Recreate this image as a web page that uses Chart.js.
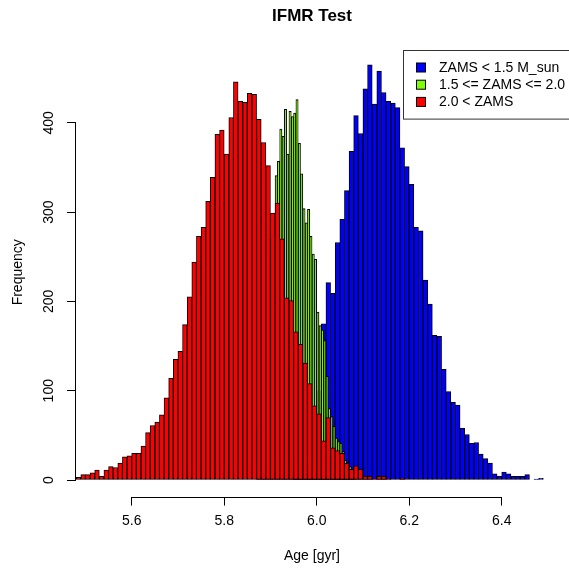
<!DOCTYPE html>
<html>
<head>
<meta charset="utf-8">
<script src="https://cdn.jsdelivr.net/npm/chart.js@4.4.1/dist/chart.umd.min.js"></script>
<style>
  html, body { margin: 0; padding: 0; background: #fff; }
  canvas { display: block; }
</style>
</head>
<body>
<canvas id="chartIFMR" width="569" height="569"></canvas>
<script>
// histogram counts, one entry per bin; bins start at *Start and are *Width wide
const redStart = 5.48;
const redWidth = 0.01;
const redCounts = [
    3, 6, 6, 8, 11, 4, 11, 15, 14, 19, 26, 27, 30, 30, 38, 53, 61, 65, 73, 92,
    114, 135, 144, 174, 205, 244, 273, 283, 312,
    339, 387, 392, 365, 406, 446, 424, 423, 433, 432, 404, 378, 352,
    299, 310, 270, 204, 201, 166, 152, 131, 108, 83, 74, 44, 70, 36, 33, 30, 19, 12, 16,
    12, 4, 4, 1, 4, 4, 1, 0, 0, 2
];

const greenStart = 5.87;
const greenWidth = 0.005;
const greenCounts = [
    60, 95, 140, 180, 215, 245, 270, 290,
    341, 357, 393, 385, 415, 365, 413, 407, 411, 426, 377, 343, 304, 288, 303, 273, 253, 247,
    188, 173, 168, 156, 116, 80, 71, 60, 47, 43, 41, 32, 22, 18, 15, 5, 2
];

const blueStart = 5.95;
const blueWidth = 0.01;
const blueCounts = [
    1, 3, 8, 20, 45, 100, 175, 221, 209,
    266, 292, 324, 368, 408, 388, 438, 465, 421, 458,
    434, 424, 422, 417, 372, 351, 331, 283, 279,
    224, 197, 162, 161, 124, 99, 87, 84,
    58, 51, 41, 42, 29, 24, 19, 7,
    4, 9, 7, 4, 4, 4, 6, 0, 1, 2
];

const seriesLabels = ['ZAMS < 1.5 M_sun', '1.5 <= ZAMS <= 2.0', '2.0 < ZAMS'];
const seriesColors = ['#0000ff', '#7fff00', '#ff0000'];
const xTicks = [5.6, 5.8, 6.0, 6.2, 6.4];
const yTicks = [0, 100, 200, 300, 400];

const fontFamily = '"Liberation Sans", Arial, Helvetica, sans-serif';

// bin centre + count pairs for a linear x axis
function toBins(start, width, counts) {
    return counts.map(function(c, i) {
        return {x: +(start + width * i + width / 2).toFixed(4), y: c};
    });
}

const rStyle = {
    id: 'rStyle',
    afterDraw: function(chart) {
        const ctx = chart.ctx;
        const area = chart.chartArea;
        const xs = chart.scales.x;
        const ys = chart.scales.y;
        ctx.save();
        ctx.strokeStyle = '#000';
        ctx.lineWidth = 1;

        // R draws the axis line only across the tick range
        const bx = Math.round(area.bottom) + 0.5;
        const lx = Math.round(area.left) - 0.5;
        ctx.beginPath();
        ctx.moveTo(xs.getPixelForValue(xTicks[0]), bx);
        ctx.lineTo(xs.getPixelForValue(xTicks[xTicks.length - 1]), bx);
        ctx.moveTo(lx, ys.getPixelForValue(yTicks[0]));
        ctx.lineTo(lx, ys.getPixelForValue(yTicks[yTicks.length - 1]));
        ctx.stroke();

        // title, centred over the plot region
        ctx.fillStyle = '#000';
        ctx.font = 'bold 17px ' + fontFamily;
        ctx.textAlign = 'center';
        ctx.textBaseline = 'middle';
        ctx.fillText('IFMR Test', (area.left + area.right) / 2, 16);

        // legend box, top right
        const boxX = 403.5, boxY = 50.5, rowH = 17.2;
        const n = chart.data.datasets.length;
        ctx.fillStyle = '#fff';
        ctx.fillRect(boxX, boxY, 200, rowH * n + 17);
        ctx.strokeStyle = '#333';
        ctx.strokeRect(boxX, boxY, 200, rowH * n + 17);
        ctx.font = '14px ' + fontFamily;
        ctx.textAlign = 'left';
        chart.data.datasets.forEach(function(ds, i) {
            const cy = 67.5 + i * rowH;
            ctx.fillStyle = ds.backgroundColor;
            ctx.fillRect(416.5, cy - 4.5, 9, 9);
            ctx.strokeStyle = '#000';
            ctx.strokeRect(416.5, cy - 4.5, 9, 9);
            ctx.fillStyle = '#000';
            ctx.fillText(ds.label, 439, cy + 0.5);
        });
        ctx.restore();
    }
};

const barStyle = {
    borderColor: '#000',
    borderWidth: 1,
    borderSkipped: false,
    grouped: false,
    barPercentage: 1,
    categoryPercentage: 1
};

Chart.defaults.font.family = fontFamily;
Chart.defaults.font.size = 14;
Chart.defaults.color = '#000';

new Chart(document.getElementById('chartIFMR'), {
    type: 'bar',
    plugins: [rStyle],
    data: {
        datasets: [
            Object.assign({
                label: seriesLabels[0],
                data: toBins(blueStart, blueWidth, blueCounts),
                backgroundColor: seriesColors[0],
                xAxisID: 'x',
                order: 3
            }, barStyle),
            Object.assign({
                label: seriesLabels[1],
                data: toBins(greenStart, greenWidth, greenCounts),
                backgroundColor: seriesColors[1],
                xAxisID: 'x2',
                order: 2
            }, barStyle),
            Object.assign({
                label: seriesLabels[2],
                data: toBins(redStart, redWidth, redCounts),
                backgroundColor: seriesColors[2],
                xAxisID: 'x',
                order: 1
            }, barStyle)
        ]
    },
    options: {
        responsive: false,
        animation: false,
        events: [],
        layout: {
            padding: {left: 0, right: 21, top: 48, bottom: 0}
        },
        plugins: {
            legend: {display: false},
            title: {display: false},
            tooltip: {enabled: false}
        },
        scales: {
            x: {
                type: 'linear',
                position: 'bottom',
                offset: false,
                min: 5.4796,
                max: 6.5001,
                afterBuildTicks: function(axis) {
                    axis.ticks = xTicks.map(function(v) { return {value: v}; });
                },
                afterFit: function(axis) { axis.height = 72.4; },
                ticks: {
                    padding: 7,
                    maxRotation: 0,
                    callback: function(value) { return value.toFixed(1); }
                },
                grid: {
                    offset: false,
                    drawOnChartArea: false,
                    drawTicks: true,
                    tickLength: 9,
                    color: '#000'
                },
                border: {display: false},
                title: {
                    display: true,
                    text: 'Age [gyr]',
                    padding: {top: 0, bottom: 4}
                }
            },
            x2: {
                type: 'linear',
                position: 'bottom',
                display: false,
                offset: false,
                min: 5.4796,
                max: 6.5001,
                grid: {offset: false}
            },
            y: {
                type: 'linear',
                min: -18.59,
                max: 483.8,
                afterBuildTicks: function(axis) {
                    axis.ticks = yTicks.map(function(v) { return {value: v}; });
                },
                afterFit: function(axis) { axis.width = 76; },
                ticks: {
                    padding: 6,
                    minRotation: 90,
                    maxRotation: 90,
                    crossAlign: 'center'
                },
                grid: {
                    drawOnChartArea: false,
                    drawTicks: true,
                    tickLength: 9,
                    color: '#000'
                },
                border: {display: false},
                title: {
                    display: true,
                    text: 'Frequency',
                    padding: {top: 10, bottom: 0}
                }
            }
        }
    }
});
</script>
</body>
</html>
